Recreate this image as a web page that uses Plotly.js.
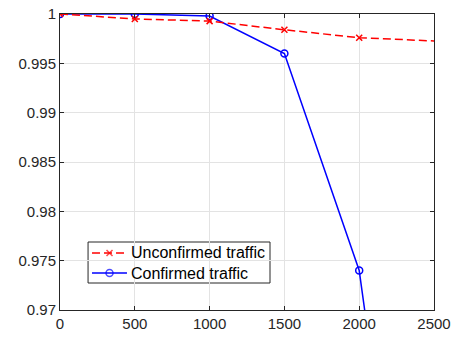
<!DOCTYPE html>
<html>
<head>
<meta charset="utf-8">
<script src="https://cdn.plot.ly/plotly-3.0.1.min.js"></script>
<style>
  html, body { margin: 0; padding: 0; background: #fff; }
  #chart { width: 453px; height: 338px; }
</style>
</head>
<body>
<div id="chart"></div>
<script>
// Traffic size (x) and success ratio for both traffic types
const trafficSize = [0, 500, 1000, 1500, 2000, 3000];
const unconfirmedRatio = [1.0, 0.9995, 0.99928, 0.9984, 0.9976, 0.99693];
const confirmedRatio = [1.0, 1.0, 0.9998, 0.996, 0.9740, 0.8646];
const seriesNames = ['Unconfirmed traffic', 'Confirmed traffic'];
const xTickVals = [0, 500, 1000, 1500, 2000, 2500];
const yTickVals = [0.97, 0.975, 0.98, 0.985, 0.99, 0.995, 1];
const yTickText = ['0.97', '0.975', '0.98', '0.985', '0.99', '0.995', '1'];

const axisColor = '#262626';
const gridColor = '#e3e3e3';
const fontFamily = 'Liberation Sans, Arial, sans-serif';
const tickFont = { family: fontFamily, size: 15, color: axisColor };

const styles = [
  {
    line: { color: '#ff0000', width: 1.5, dash: '8px,4px' },
    marker: { symbol: 'x-thin-open', size: 6, color: '#ff0000', line: { width: 1.5, color: '#ff0000' } }
  },
  {
    line: { color: '#0000ff', width: 1.5 },
    marker: { symbol: 'circle-open', size: 7, color: '#0000ff', line: { width: 1.5, color: '#0000ff' } }
  }
];

// Compact boxed legend, placed in plot-area fractions (lower left)
const legendBox = { x0: 0.075, x1: 0.5615, y0: 0.0912, y1: 0.2297 };
const legendRows = [0.1926, 0.125];
const sampleX = [0.0856, 0.1324, 0.1791];
const labelX = 0.1872;

const traces = [
  Object.assign({
    x: trafficSize, y: confirmedRatio, name: seriesNames[1],
    mode: 'lines+markers', showlegend: false, cliponaxis: true
  }, styles[1]),
  Object.assign({
    x: trafficSize, y: unconfirmedRatio, name: seriesNames[0],
    mode: 'lines+markers', showlegend: false, cliponaxis: true
  }, styles[0])
];

// Legend samples: short line with a single marker in the middle
seriesNames.forEach((name, i) => {
  traces.push({
    x: sampleX, y: sampleX.map(() => legendRows[i]),
    xaxis: 'x2', yaxis: 'y2', mode: 'lines+markers', showlegend: false,
    line: styles[i].line,
    marker: Object.assign({}, styles[i].marker, { size: [0, styles[i].marker.size, 0] })
  });
});

const layout = {
  width: 453, height: 338,
  margin: { l: 60, r: 19, t: 14, b: 28 },
  paper_bgcolor: '#fff', plot_bgcolor: '#fff',
  showlegend: false,
  xaxis: {
    range: [0, 2500], tickvals: xTickVals,
    showgrid: true, gridcolor: gridColor, gridwidth: 1,
    zeroline: false,
    showline: true, linecolor: axisColor, linewidth: 1, mirror: 'ticks',
    ticks: 'inside', ticklen: 4, tickcolor: axisColor,
    tickfont: tickFont
  },
  yaxis: {
    range: [0.97, 1], tickvals: yTickVals, ticktext: yTickText,
    showgrid: true, gridcolor: gridColor, gridwidth: 1,
    zeroline: false,
    showline: true, linecolor: axisColor, linewidth: 1, mirror: 'ticks',
    ticks: 'inside', ticklen: 4, tickcolor: axisColor,
    tickfont: tickFont
  },
  xaxis2: { overlaying: 'x', range: [0, 1], visible: false, fixedrange: true },
  yaxis2: { overlaying: 'y', range: [0, 1], visible: false, fixedrange: true },
  shapes: [{
    type: 'rect', xref: 'paper', yref: 'paper', layer: 'between',
    x0: legendBox.x0, x1: legendBox.x1, y0: legendBox.y0, y1: legendBox.y1,
    fillcolor: '#ffffff', line: { color: axisColor, width: 1 }
  }],
  annotations: seriesNames.map((name, i) => ({
    text: name, xref: 'paper', yref: 'paper',
    x: labelX, y: legendRows[i], xanchor: 'left', yanchor: 'middle',
    showarrow: false, borderpad: 0,
    font: { family: fontFamily, size: 16, color: '#000' }
  }))
};

Plotly.newPlot('chart', traces, layout, { staticPlot: true, displayModeBar: false });
</script>
</body>
</html>
